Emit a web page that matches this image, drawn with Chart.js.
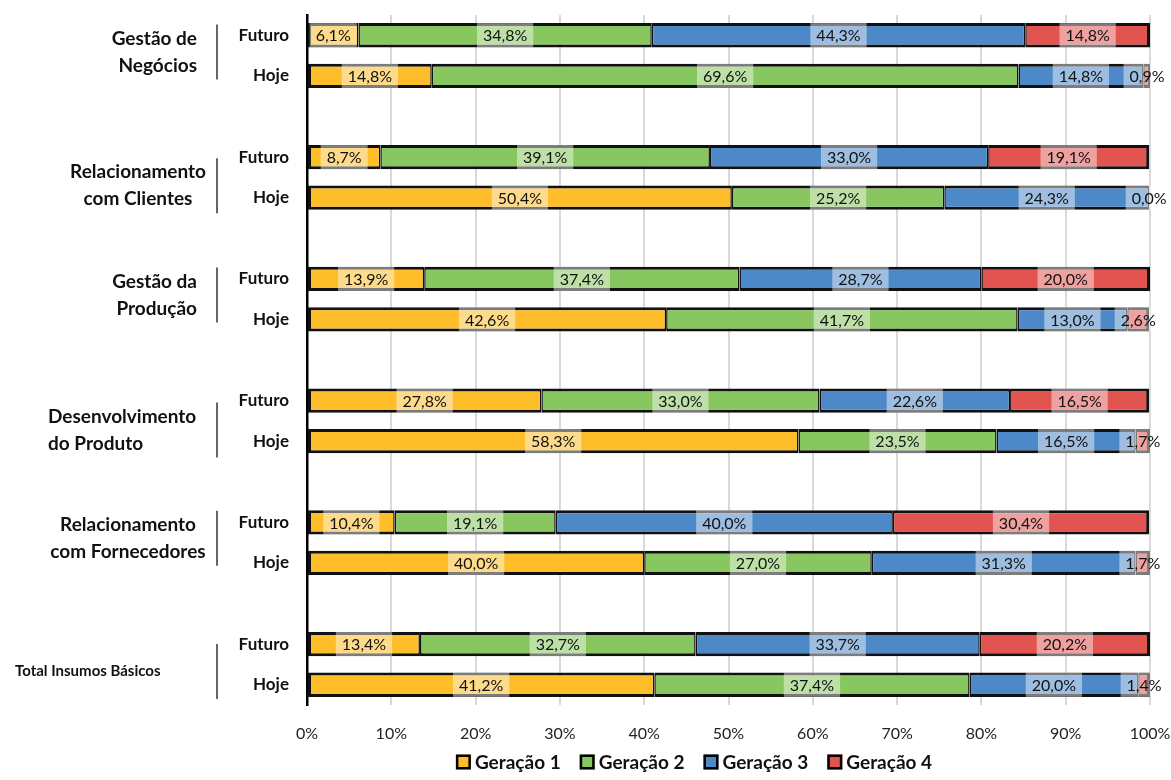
<!DOCTYPE html>
<html>
<head>
<meta charset="utf-8">
<script src="https://cdn.jsdelivr.net/npm/chart.js@4"></script>
<style>
  body { margin: 0; background: #fff; }
</style>
</head>
<body>
<canvas id="geracoesChart" width="1171" height="780"></canvas>
<script>
// groups (top to bottom), each has a Futuro and a Hoje bar
const groups = [
    ['Gestão de', 'Negócios'],
    ['Relacionamento', 'com Clientes'],
    ['Gestão da', 'Produção'],
    ['Desenvolvimento', 'do Produto'],
    ['Relacionamento', 'com Fornecedores'],
    ['Total Insumos Básicos']
]
const periods = ['Futuro', 'Hoje']
const seriesNames = ['Geração 1', 'Geração 2', 'Geração 3', 'Geração 4']

// values per bar, in the order Futuro, Hoje for each group
const geracao1 = [6.1, 14.8, 8.7, 50.4, 13.9, 42.6, 27.8, 58.3, 10.4, 40.0, 13.4, 41.2]
const geracao2 = [34.8, 69.6, 39.1, 25.2, 37.4, 41.7, 33.0, 23.5, 19.1, 27.0, 32.7, 37.4]
const geracao3 = [44.3, 14.8, 33.0, 24.3, 28.7, 13.0, 22.6, 16.5, 40.0, 31.3, 33.7, 20.0]
const geracao4 = [14.8, 0.9, 19.1, 0.0, 20.0, 2.6, 16.5, 1.7, 30.4, 1.7, 20.2, 1.4]

const colors = ['#FDBE2A', '#88C660', '#4D89C8', '#E25450']

// how the group names sit left of the bars
const groupLabelLayout = [
    { align: 'right', x: 197, dy: -3.5, size: 19 },
    { align: 'center', x: 138, dy: 8.5, size: 19 },
    { align: 'right', x: 197, dy: -4, size: 19 },
    { align: 'left', x: 48, dy: 9, size: 19 },
    { align: 'center', x: 128, dy: -4.5, size: 19 },
    { align: 'left', x: 15, dy: 7, size: 15 }
]

// build the category list with an empty row between groups
let labels = []
groups.forEach((g, k) => {
    labels.push(...periods)
    if (k < groups.length - 1) labels.push('')
})
function expand(values) {
    let out = []
    groups.forEach((g, k) => {
        out.push(values[2 * k], values[2 * k + 1])
        if (k < groups.length - 1) out.push(null)
    })
    return out
}

const allSeries = [geracao1, geracao2, geracao3, geracao4]
const datasets = allSeries.map((values, i) => {
    let left = i == 0 ? 3 : 1.5
    let right = i == allSeries.length - 1 ? 3 : 1.5
    return {
        label: seriesNames[i],
        data: expand(values),
        backgroundColor: colors[i],
        borderColor: '#111',
        borderWidth: { top: 3, bottom: 3, left: left, right: right },
        borderSkipped: false,
        categoryPercentage: 1,
        barPercentage: 0.6
    }
})

const fontFamily = 'Lato, "Open Sans", sans-serif'

// value labels with a light box behind them
const valueLabels = {
    id: 'valueLabels',
    afterDatasetsDraw(chart) {
        const ctx = chart.ctx
        ctx.save()
        ctx.font = '16px ' + fontFamily
        ctx.textAlign = 'center'
        ctx.textBaseline = 'middle'
        chart.data.datasets.forEach((ds, i) => {
            const meta = chart.getDatasetMeta(i)
            meta.data.forEach((bar, j) => {
                const v = ds.data[j]
                if (v == null) return
                const p = bar.getProps(['x', 'base', 'y', 'height'], true)
                const cx = (p.x + p.base) / 2
                const text = v.toFixed(1).replace('.', ',') + '%'
                const w = ctx.measureText(text).width + 12
                ctx.fillStyle = 'rgba(255,255,255,0.45)'
                ctx.fillRect(cx - w / 2, p.y - p.height / 2, w, p.height)
                ctx.fillStyle = '#111'
                ctx.fillText(text, cx, p.y + 1)
            })
        })
        ctx.restore()
    }
}

// group names, separators and the legend
const sideDecor = {
    id: 'sideDecor',
    afterDraw(chart) {
        const ctx = chart.ctx
        const yScale = chart.scales.y
        ctx.save()
        groups.forEach((lines, k) => {
            const lay = groupLabelLayout[k]
            const mid = (yScale.getPixelForValue(3 * k) + yScale.getPixelForValue(3 * k + 1)) / 2 + lay.dy
            ctx.strokeStyle = '#333'
            ctx.lineWidth = 1.5
            ctx.beginPath()
            ctx.moveTo(217, mid - 27.5)
            ctx.lineTo(217, mid + 27.5)
            ctx.stroke()
            ctx.fillStyle = '#111'
            ctx.font = 'bold ' + lay.size + 'px ' + fontFamily
            ctx.textAlign = lay.align
            ctx.textBaseline = 'middle'
            const lh = 27
            lines.forEach((line, n) => {
                const y = mid + (n - (lines.length - 1) / 2) * lh
                ctx.fillText(line, lay.x, y)
            })
        })

        // legend, centred under the plot
        ctx.font = 'bold 19px ' + fontFamily
        ctx.textAlign = 'left'
        ctx.textBaseline = 'middle'
        const box = 15, gap = 4, spacing = 19
        const widths = chart.data.datasets.map(ds => box + gap + ctx.measureText(ds.label).width)
        const total = widths.reduce((a, b) => a + b, 0) + spacing * (widths.length - 1)
        let x = 694 - total / 2
        const y = 762
        chart.data.datasets.forEach((ds, i) => {
            ctx.fillStyle = ds.backgroundColor
            ctx.fillRect(x, y - box / 2, box, box)
            ctx.strokeStyle = '#000'
            ctx.lineWidth = 2.5
            ctx.strokeRect(x + 1.25, y - box / 2 + 1.25, box - 2.5, box - 2.5)
            ctx.fillStyle = '#111'
            ctx.fillText(ds.label, x + box + gap, y + 1)
            x += widths[i] + spacing
        })
        ctx.restore()
    }
}

new Chart('geracoesChart', {
    type: 'bar',
    data: {
        labels: labels,
        datasets: datasets
    },
    plugins: [valueLabels, sideDecor],
    options: {
        indexAxis: 'y',
        responsive: false,
        animation: false,
        devicePixelRatio: 1,
        layout: {
            padding: { top: 15, right: 21, bottom: 30, left: 0 }
        },
        plugins: {
            legend: { display: false },
            tooltip: { enabled: false }
        },
        scales: {
            x: {
                stacked: true,
                min: 0,
                max: 100,
                afterFit: (scale) => {
                    scale.height = 45
                    scale.paddingLeft = 0
                    scale.paddingRight = 0
                },
                ticks: {
                    stepSize: 10,
                    padding: 19,
                    color: '#222',
                    font: { family: fontFamily, size: 16 },
                    callback: (v) => v + '%'
                },
                grid: {
                    drawTicks: false,
                    lineWidth: 2,
                    color: (c) => c.index == 0 ? 'rgba(0,0,0,0)' : '#d9d9d9'
                },
                border: { display: false }
            },
            y: {
                stacked: true,
                afterFit: (scale) => {
                    scale.width = 307
                    scale.paddingTop = 0
                    scale.paddingBottom = 0
                },
                ticks: {
                    autoSkip: false,
                    padding: 18,
                    color: '#111',
                    font: { family: fontFamily, size: 17, weight: 'bold' }
                },
                grid: { display: false, drawTicks: false },
                border: { display: true, color: '#000', width: 2.5 }
            }
        }
    }
})
</script>
</body>
</html>
